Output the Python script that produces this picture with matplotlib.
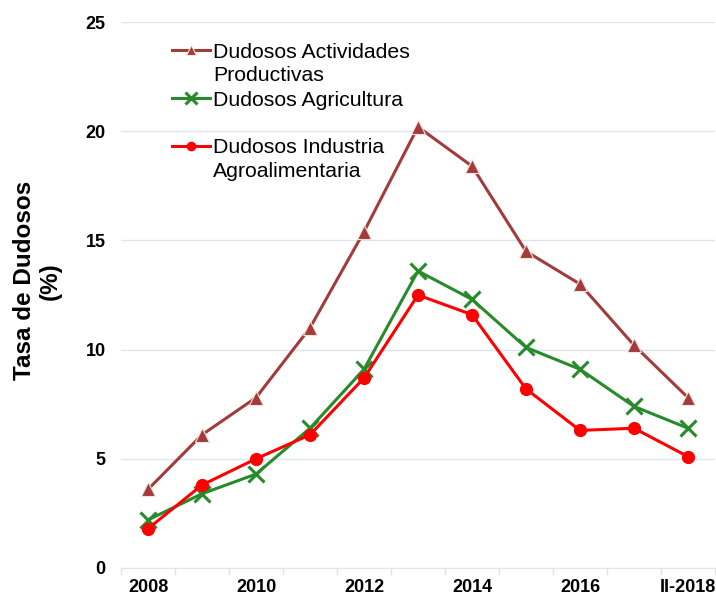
import matplotlib
matplotlib.use('Agg')
import matplotlib.pyplot as plt
import numpy as np

plt.rcParams['font.family'] = ['Liberation Sans', 'DejaVu Sans']

categories = ['2008', '2009', '2010', '2011', '2012', '2013', '2014', '2015', '2016', '2017', 'II-2018']
tick_labels = ['2008', '', '2010', '', '2012', '', '2014', '', '2016', '', 'II-2018']

actividades = [3.6, 6.1, 7.8, 11.0, 15.4, 20.2, 18.4, 14.5, 13.0, 10.2, 7.8]
agricultura = [2.2, 3.4, 4.3, 6.4, 9.1, 13.6, 12.3, 10.1, 9.1, 7.4, 6.4]
industria = [1.8, 3.8, 5.0, 6.1, 8.7, 12.5, 11.6, 8.2, 6.3, 6.4, 5.1]

x = np.arange(len(categories))

fig = plt.figure(figsize=(7.16, 5.96), dpi=100)
ax = fig.add_axes([0.169, 0.047, 0.8296, 0.916])

ax.plot(x, actividades, color='#A33B3B', linewidth=2.2, marker='^', markersize=10.5,
        markeredgecolor='#F2E6DC', markeredgewidth=0.8, label='Dudosos Actividades\nProductivas', zorder=3)
ax.plot(x, agricultura, color='#278A2B', linewidth=2.2, marker='x', markersize=12,
        markeredgewidth=2.2, label='Dudosos Agricultura\n ', zorder=4)
ax.plot(x, industria, color='#FF0000', linewidth=2.2, marker='o', markersize=8.5,
        label='Dudosos Industria\nAgroalimentaria', zorder=5)

ax.set_xlim(-0.5, len(categories) - 0.5)
ax.set_ylim(0, 25)
ax.set_yticks([0, 5, 10, 15, 20, 25])
ax.grid(axis='y', color='#DCE6F2', linewidth=1)
ax.set_axisbelow(True)

ax.set_xticks(x)
ax.set_xticklabels(tick_labels, fontsize=13, fontweight='bold')
ax.set_xticks(np.arange(-0.5, len(categories)), minor=True)
ax.tick_params(axis='x', which='major', length=0, pad=8)
ax.tick_params(axis='x', which='minor', length=5, color='#DCE6F2', width=1)
ax.tick_params(axis='y', length=0, labelsize=13, pad=11)
for lbl in ax.get_yticklabels():
    lbl.set_fontweight('bold')

for s in ['top', 'right', 'left']:
    ax.spines[s].set_visible(False)
ax.spines['bottom'].set_color('#DCE6F2')

ax.set_ylabel('Tasa de Dudosos\n(%)', fontsize=17.5, fontweight='bold')
ax.yaxis.set_label_coords(-0.099, 0.526)

leg = ax.legend(loc='upper left', bbox_to_anchor=(0.086, 0.962), frameon=False,
                fontsize=15.3, handlelength=1.8, handletextpad=0.12, labelspacing=0.25,
                borderpad=0, borderaxespad=0, markerscale=0.7)
for t in leg.get_texts():
    t.set_linespacing(1.3)
# put the marker next to the first line of each label
for col in leg._legend_handle_box.get_children():
    for row in col.get_children():
        row.align = 'top'

fig.savefig('out.png', dpi=100)
